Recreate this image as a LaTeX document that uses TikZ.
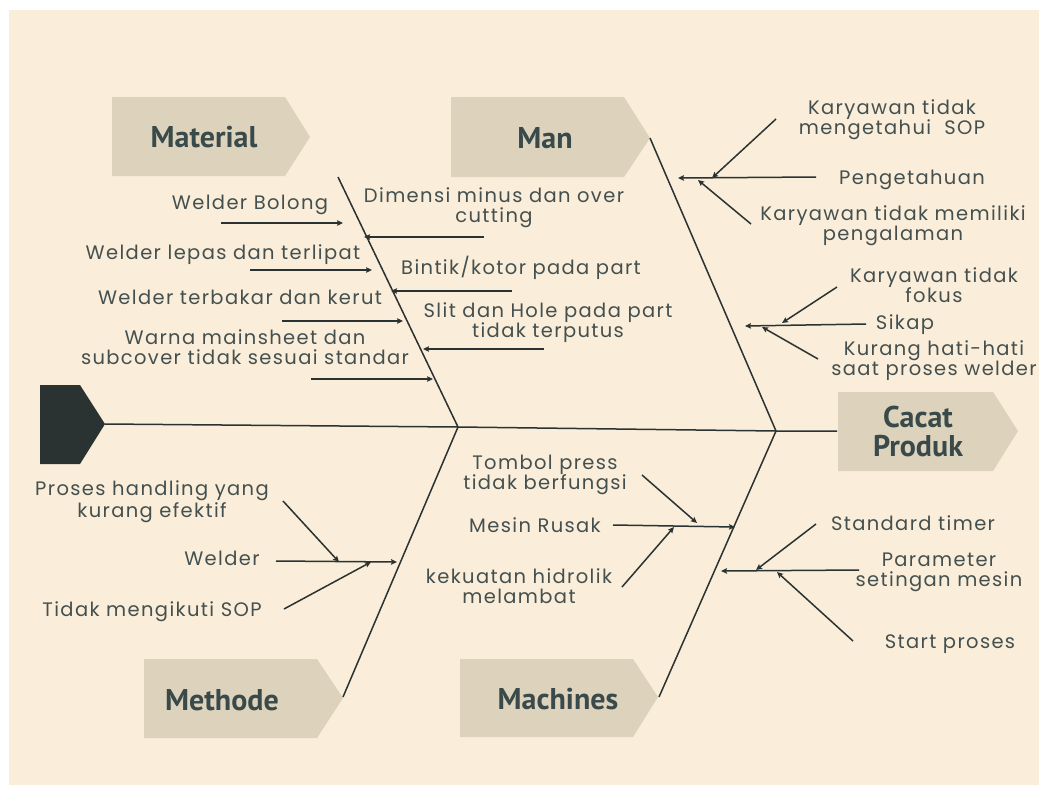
\documentclass[tikz,border=0pt]{standalone}
\usepackage{fontspec}
\usetikzlibrary{arrows.meta}
\newfontfamily\lblfont{Poppins}[LetterSpace=7]
\newfontfamily\ttlfont{PT Sans}
\definecolor{cream}{HTML}{FAEDD9}
\definecolor{boxc}{HTML}{DDD3BD}
\definecolor{ink}{HTML}{2A3332}
\definecolor{txt}{HTML}{44504F}
\definecolor{ttl}{HTML}{3A4949}
\tikzset{
  lbl/.style={font=\lblfont\fontsize{19.5}{20}\selectfont, text=txt, inner sep=0pt, align=center, anchor=base},
  ttlnode/.style={font=\ttlfont\bfseries\fontsize{30}{29}\selectfont, text=ttl, inner sep=0pt, align=center, anchor=base},
  bone/.style={draw=ink, line width=1.5pt},
  arr/.style={draw=ink, line width=1.5pt, -{Stealth[length=6pt,width=5.5pt,inset=1pt]}},
  boxfill/.style={fill=boxc}
}
\begin{document}
\begin{tikzpicture}[x=1pt,y=-1pt]
\useasboundingbox (0,0) rectangle (1039,785);
\fill[white] (0,0) rectangle (1039,785);
\fill[cream] (9,10) rectangle (1039,785);

% category boxes
\fill[boxc] (112,97) -- (285,97) -- (310,137) -- (285,176) -- (112,176) -- cycle;
\fill[boxc] (451,97) -- (624,97) -- (650,138) -- (624,177) -- (451,177) -- cycle;
\fill[boxc] (144,659) -- (317,659) -- (343,698) -- (317,738) -- (144,738) -- cycle;
\fill[boxc] (460,659) -- (633,659) -- (658,697) -- (633,737) -- (460,737) -- cycle;
\fill[boxc] (838,392) -- (993,392) -- (1018,431) -- (993,471) -- (838,471) -- cycle;
\fill[ink] (40,385) -- (80,385) -- (105,424) -- (80,464) -- (40,464) -- cycle;

\node[ttlnode] (tMaterial) at (204,147) {Material};
\node[ttlnode] (tMan) at (545,148) {Man};
\node[ttlnode] (tMethode) at (222,710) {Methode};
\node[ttlnode] (tMachines) at (558,709) {Machines};
\node[ttlnode] (tCacat) at (918,456) {Cacat\\Produk};

% spine and bones
\coordinate (head) at (105,424);
\coordinate (j1) at (458,427);
\coordinate (j2) at (776,431);
\coordinate (tail) at (837,431);
\coordinate (bMat) at (338,177);
\coordinate (bMan) at (650,138);
\coordinate (bMet) at (343,697);
\coordinate (bMac) at (659,697);
\draw[bone] (head) -- (j1) -- (j2) -- (tail);
\draw[bone] (bMat) -- (j1) -- (bMet);
\draw[bone] (bMan) -- (j2) -- (bMac);

% Material causes
\node[lbl] (m1) at (250,209) {Welder Bolong};
\node[lbl] (m2) at (223,259) {Welder lepas dan terlipat};
\node[lbl] (m3) at (240,304) {Welder terbakar dan kerut};
\node[lbl] (m4) at (245,364) {Warna mainsheet dan\\subcover tidak sesuai standar};
\node[lbl] (m5) at (494,222) {Dimensi minus dan over\\cutting};
\node[lbl] (m6) at (521,274) {Bintik/kotor pada part};
\node[lbl] (m7) at (548,337) {Slit dan Hole pada part\\tidak terputus};
\coordinate (a1s) at (221,223); \coordinate (a1e) at (343,223);
\coordinate (a2s) at (250,270); \coordinate (a2e) at (372,270);
\coordinate (a3s) at (282,321); \coordinate (a3e) at (403,321);
\coordinate (a4s) at (311,379); \coordinate (a4e) at (433,379);
\coordinate (a5s) at (484,237); \coordinate (a5e) at (364,237);
\coordinate (a6s) at (512,291); \coordinate (a6e) at (391,291);
\coordinate (a7s) at (544,349); \coordinate (a7e) at (423,349);
\draw[arr] (a1s) -- (a1e);
\draw[arr] (a2s) -- (a2e);
\draw[arr] (a3s) -- (a3e);
\draw[arr] (a4s) -- (a4e);
\draw[arr] (a5s) -- (a5e);
\draw[arr] (a6s) -- (a6e);
\draw[arr] (a7s) -- (a7e);

% Man causes
\node[lbl] (n1) at (892,134) {Karyawan tidak\\mengetahui\ \ SOP};
\node[lbl] (n2) at (912,184) {Pengetahuan};
\node[lbl] (n3) at (893,240) {Karyawan tidak memiliki\\pengalaman};
\node[lbl] (n4) at (934,302) {Karyawan tidak\\fokus};
\node[lbl] (n5) at (905,329) {Sikap};
\node[lbl] (n6) at (934,375) {Kurang hati-hati\\saat proses welder};
\coordinate (p1s) at (816,177); \coordinate (p1e) at (678,178);
\coordinate (p2s) at (776,119); \coordinate (p2e) at (712,178);
\coordinate (p3s) at (751,224); \coordinate (p3e) at (698,180);
\coordinate (q1s) at (866,324); \coordinate (q1e) at (745,326);
\coordinate (q2s) at (837,287); \coordinate (q2e) at (782,323);
\coordinate (q3s) at (818,359); \coordinate (q3e) at (762,327);
\draw[arr] (p1s) -- (p1e);
\draw[arr] (p2s) -- (p2e);
\draw[arr] (p3s) -- (p3e);
\draw[arr] (q1s) -- (q1e);
\draw[arr] (q2s) -- (q2e);
\draw[arr] (q3s) -- (q3e);

% Methode causes
\node[lbl] (e1) at (152,517) {Proses handling yang\\kurang efektif};
\node[lbl] (e2) at (222,565) {Welder};
\node[lbl] (e3) at (152,616) {Tidak mengikuti SOP};
\coordinate (r1s) at (276,561); \coordinate (r1e) at (397,562);
\coordinate (r2s) at (283,501); \coordinate (r2e) at (339,562);
\coordinate (r3s) at (284,609); \coordinate (r3e) at (371,562);
\draw[arr] (r1s) -- (r1e);
\draw[arr] (r2s) -- (r2e);
\draw[arr] (r3s) -- (r3e);

% Machines causes
\node[lbl] (c1) at (545,489) {Tombol press\\tidak berfungsi};
\node[lbl] (c2) at (535,532) {Mesin Rusak};
\node[lbl] (c3) at (519,603) {kekuatan hidrolik\\melambat};
\node[lbl] (c4) at (913,530) {Standard timer};
\node[lbl] (c5) at (939,586) {Parameter\\setingan mesin};
\node[lbl] (c6) at (950,648) {Start proses};
\coordinate (s1s) at (613,525); \coordinate (s1e) at (735,527);
\coordinate (s2s) at (642,475); \coordinate (s2e) at (697,523);
\coordinate (s3s) at (622,587); \coordinate (s3e) at (674,527);
\coordinate (t1s) at (859,570); \coordinate (t1e) at (721,571);
\coordinate (t2s) at (816,524); \coordinate (t2e) at (756,570);
\coordinate (t3s) at (853,641); \coordinate (t3e) at (777,572);
\draw[arr] (s1s) -- (s1e);
\draw[arr] (s2s) -- (s2e);
\draw[arr] (s3s) -- (s3e);
\draw[arr] (t1s) -- (t1e);
\draw[arr] (t2s) -- (t2e);
\draw[arr] (t3s) -- (t3e);
\end{tikzpicture}
\end{document}
